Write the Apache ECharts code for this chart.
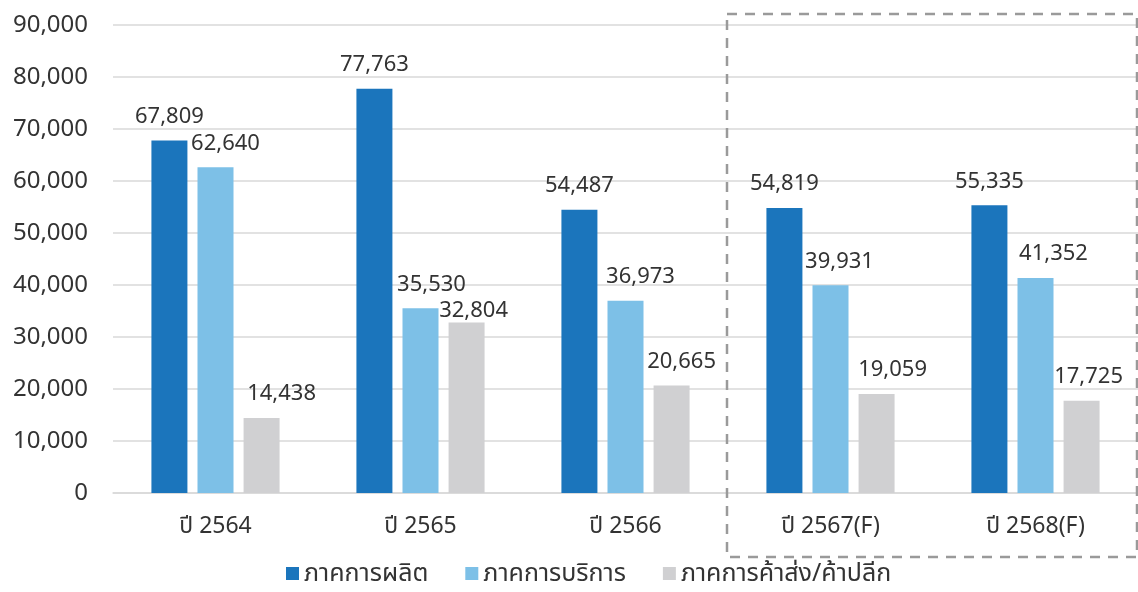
<!DOCTYPE html>
<html><head><meta charset="utf-8">
<script src="https://cdn.jsdelivr.net/npm/echarts@6/dist/echarts.min.js"></script>
<style>html,body{margin:0;padding:0;background:#fff}#c{width:1138px;height:592px}</style>
</head><body><div id="c"></div>
<script>
const categories = ['ปี 2564','ปี 2565','ปี 2566','ปี 2567(F)','ปี 2568(F)'];
const seriesNames = ['ภาคการผลิต','ภาคการบริการ','ภาคการค้าส่ง/ค้าปลีก'];
const manufacturing = [67809, 77763, 54487, 54819, 55335];
const services = [62640, 35530, 36973, 39931, 41352];
const trade = [14438, 32804, 20665, 19059, 17725];
const colors = ['#1B75BC', '#7DC0E7', '#D0D0D2'];
const FONT = '"Noto Sans", "Noto Sans Thai", sans-serif';

// label nudges (horizontal shift per series, per point) mirroring the reference's label layout
const labelDx = [
  [0, 0, 0, 0, 0],
  [10, 11, 15, 9, 18],
  [20, 7, 10, 16, 7]
];
const labelDist = [
  [13, 13, 13, 13, 13],
  [13, 13, 13, 13, 13],
  [13, 1, 13, 13, 13]
];

const chart = echarts.init(document.getElementById('c'));
const fmt = v => v.toLocaleString('en-US');
function mk(si, data) {
  return {
    name: seriesNames[si], type: 'bar', barWidth: 36, barGap: '28%',
    itemStyle: { color: colors[si] },
    data: data.map((v, i) => ({ value: v, label: { offset: [labelDx[si][i], 0], distance: labelDist[si][i] } })),
    label: { show: true, position: 'top',
      color: '#333', fontSize: 22, fontFamily: FONT,
      formatter: p => fmt(p.value) }
  };
}
chart.setOption({
  animation: false,
  textStyle: { fontFamily: FONT },
  grid: { left: 113, right: 0, top: 25, bottom: 99 },
  legend: {
    bottom: 1, left: 281, itemWidth: 13, itemHeight: 13, itemGap: 37,
    icon: 'rect', textStyle: { fontSize: 25, color: '#333', fontFamily: FONT }
  },
  xAxis: {
    type: 'category', data: categories,
    axisLine: { lineStyle: { color: '#d9d9d9', width: 1.5 } },
    axisTick: { show: false },
    axisLabel: { color: '#333', fontSize: 23, margin: 22, fontFamily: FONT }
  },
  yAxis: {
    type: 'value', min: 0, max: 90000, interval: 10000,
    axisLabel: { color: '#333', fontSize: 24, margin: 25, fontFamily: FONT, formatter: v => fmt(v) },
    splitLine: { lineStyle: { color: '#d9d9d9', width: 1.5 } }
  },
  graphic: [{
    type: 'rect', shape: { x: 727, y: 14, width: 410, height: 543 },
    style: { fill: 'none', stroke: '#9a9a9a', lineWidth: 2.5, lineDash: [10, 8] }, z: 10
  }],
  series: [mk(0, manufacturing), mk(1, services), mk(2, trade)]
});
</script></body></html>
